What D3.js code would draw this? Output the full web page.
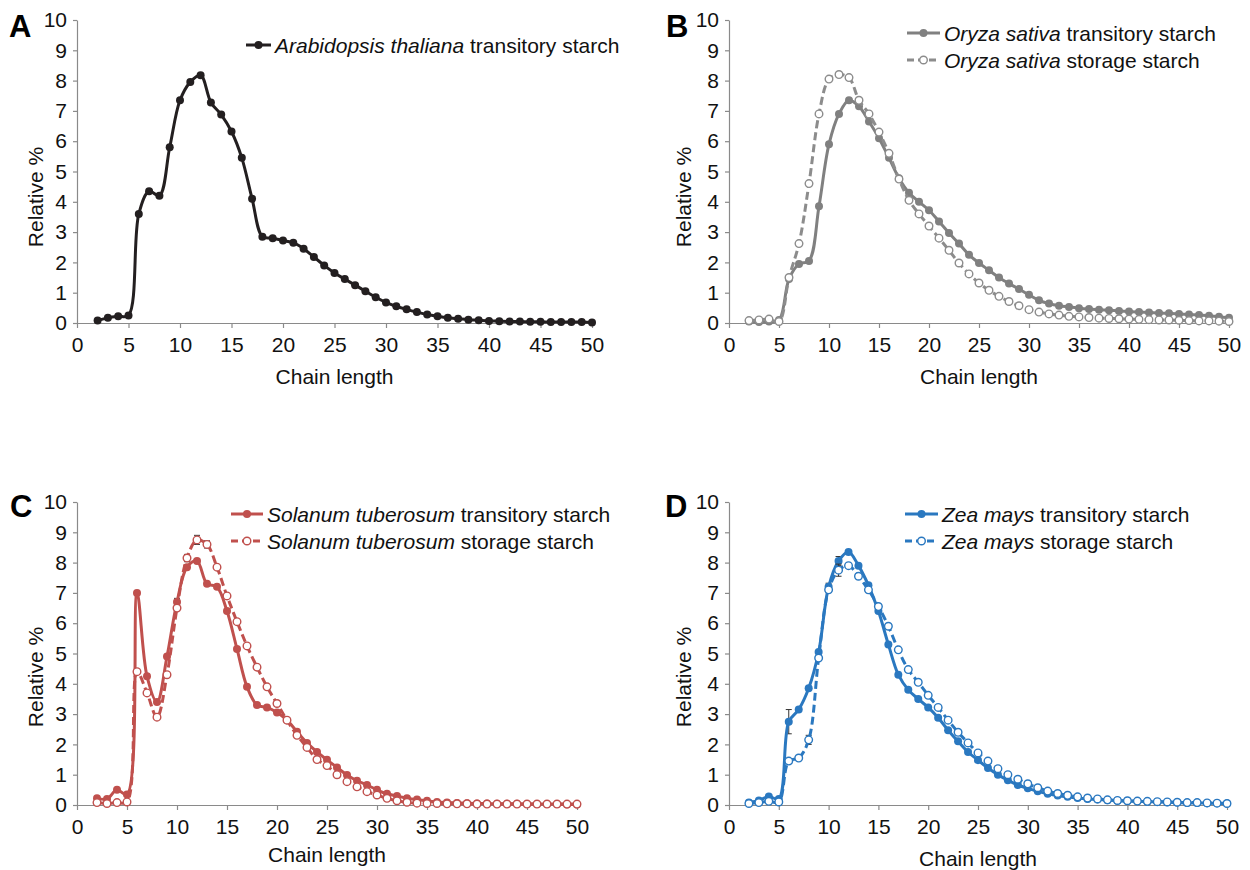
<!DOCTYPE html>
<html>
<head>
<meta charset="utf-8">
<script src="https://cdn.jsdelivr.net/npm/d3@7"></script>
<style>
  body { margin: 0; background: #fff; }
  svg text { font-family: "Liberation Sans", Arial, sans-serif; }
</style>
</head>
<body>
<div id="chart"></div>
<script>
// chain length (degree of polymerisation) on the x axis
var chainLength = [2,3,4,5,6,7,8,9,10,11,12,13,14,15,16,17,18,19,20,21,22,23,24,25,26,
    27,28,29,30,31,32,33,34,35,36,37,38,39,40,41,42,43,44,45,46,47,48,49,50];
var xTicks = [0,5,10,15,20,25,30,35,40,45,50];
var yTicks = [0,1,2,3,4,5,6,7,8,9,10];

var arabidopsisTransitory = [0.08,0.17,0.22,0.25,3.6,4.35,4.2,5.8,7.35,7.95,8.18,7.28,6.88,6.32,5.45,4.1,
    2.85,2.8,2.72,2.65,2.45,2.18,1.9,1.65,1.45,1.25,1.05,0.85,0.68,0.55,0.45,0.36,0.28,0.22,0.17,0.14,
    0.11,0.09,0.07,0.06,0.05,0.05,0.04,0.04,0.03,0.03,0.03,0.03,0.02];

var oryzaTransitory = [0.05,0.03,0.05,0.1,1.45,1.95,2.05,3.85,5.9,6.9,7.35,7.15,6.65,6.1,5.45,4.78,
    4.3,4.0,3.72,3.35,2.97,2.62,2.25,1.98,1.74,1.5,1.3,1.12,0.93,0.75,0.64,0.57,0.53,0.49,0.46,0.44,
    0.42,0.4,0.38,0.36,0.35,0.33,0.32,0.3,0.28,0.26,0.24,0.21,0.17];
var oryzaStorage = [0.08,0.1,0.13,0.05,1.5,2.62,4.6,6.9,8.05,8.2,8.1,7.35,6.9,6.3,5.6,4.75,
    4.05,3.6,3.2,2.8,2.4,1.98,1.62,1.32,1.08,0.88,0.71,0.57,0.44,0.36,0.3,0.26,0.22,0.2,0.18,0.16,
    0.15,0.14,0.13,0.12,0.11,0.1,0.1,0.09,0.08,0.07,0.07,0.06,0.05];

var solanumTransitory = [0.22,0.2,0.5,0.35,7.0,4.25,3.4,4.9,6.7,7.85,8.05,7.3,7.2,6.4,5.15,3.9,
    3.3,3.22,3.05,2.8,2.42,2.05,1.75,1.49,1.24,0.99,0.8,0.66,0.5,0.37,0.3,0.22,0.18,0.14,0.1,0.08,
    0.07,0.06,0.05,0.05,0.04,0.04,0.04,0.03,0.03,0.03,0.03,0.02,0.02];
var solanumStorage = [0.08,0.05,0.08,0.1,4.4,3.7,2.9,4.3,6.5,8.15,8.75,8.6,7.85,6.9,6.05,5.25,
    4.55,3.9,3.35,2.8,2.3,1.9,1.5,1.3,1.0,0.77,0.6,0.44,0.33,0.22,0.14,0.09,0.06,0.05,0.05,0.04,
    0.04,0.04,0.03,0.03,0.03,0.03,0.03,0.03,0.03,0.03,0.03,0.03,0.03];
var solanumTransitoryErr = [[6,0.08],[10,0.12],[12,0.05]];
var solanumStorageErr = [[11,0.12],[12,0.15],[13,0.12]];

var zeaTransitory = [0.08,0.15,0.28,0.2,2.75,3.15,3.85,5.05,7.2,8.05,8.35,7.9,7.25,6.4,5.3,4.3,
    3.8,3.5,3.22,2.88,2.47,2.1,1.75,1.48,1.22,1.0,0.82,0.66,0.55,0.45,0.37,0.31,0.27,0.23,0.2,0.18,
    0.16,0.14,0.13,0.12,0.11,0.1,0.09,0.08,0.07,0.07,0.06,0.06,0.05];
var zeaStorage = [0.05,0.08,0.12,0.1,1.45,1.55,2.15,4.85,7.1,7.75,7.9,7.55,7.1,6.55,5.9,5.12,
    4.47,4.05,3.62,3.22,2.8,2.4,2.05,1.72,1.45,1.2,1.0,0.85,0.7,0.57,0.46,0.38,0.32,0.27,0.23,0.2,
    0.17,0.15,0.14,0.13,0.12,0.11,0.1,0.09,0.08,0.08,0.07,0.06,0.05];
var zeaTransitoryErr = [[6,0.4],[10,0.12],[11,0.15]];
var zeaStorageErr = [[8,0.15],[11,0.2]];

var panels = [
    { letter: "A", lx: 9, ly: 37, x0: 77, x1: 592, top: 20, bottom: 323, titleY: 384, ylabX: 43, ylabY: 197,
      legX: 246, legY: 45, legLen: 25,
      series: [{ species: "Arabidopsis thaliana", kind: "transitory starch", values: arabidopsisTransitory,
                 color: "#231f20", dashed: false, open: false, err: [] }] },
    { letter: "B", lx: 666, ly: 37, x0: 729, x1: 1229, top: 20, bottom: 323, titleY: 384, ylabX: 691, ylabY: 197,
      legX: 907, legY: 33, legLen: 33,
      series: [{ species: "Oryza sativa", kind: "transitory starch", values: oryzaTransitory,
                 color: "#808080", dashed: false, open: false, err: [] },
               { species: "Oryza sativa", kind: "storage starch", values: oryzaStorage,
                 color: "#8c8c8c", dashed: true, open: true, err: [] }] },
    { letter: "C", lx: 10, ly: 517, x0: 77, x1: 577, top: 502, bottom: 805, titleY: 862, ylabX: 43, ylabY: 677,
      legX: 231, legY: 514, legLen: 32,
      series: [{ species: "Solanum tuberosum", kind: "transitory starch", values: solanumTransitory,
                 color: "#c0504d", dashed: false, open: false, err: solanumTransitoryErr },
               { species: "Solanum tuberosum", kind: "storage starch", values: solanumStorage,
                 color: "#c0504d", dashed: true, open: true, err: solanumStorageErr }] },
    { letter: "D", lx: 665, ly: 517, x0: 729, x1: 1227, top: 502, bottom: 805, titleY: 866, ylabX: 691, ylabY: 677,
      legX: 905, legY: 514, legLen: 33,
      series: [{ species: "Zea mays", kind: "transitory starch", values: zeaTransitory,
                 color: "#2a78c0", dashed: false, open: false, err: zeaTransitoryErr },
               { species: "Zea mays", kind: "storage starch", values: zeaStorage,
                 color: "#2a78c0", dashed: true, open: true, err: zeaStorageErr }] }
];

var svg = d3.select("#chart").append("svg")
    .attr("width", 1250)
    .attr("height", 870);

panels.forEach(function(p) {
    var g = svg.append("g");
    var x = d3.scaleLinear().domain([0, 50]).range([p.x0, p.x1]);
    var y = d3.scaleLinear().domain([0, 10]).range([p.bottom, p.top]);

    // axes
    var xAxis = g.append("g")
        .attr("transform", "translate(0," + p.bottom + ")")
        .call(d3.axisBottom(x).tickValues(xTicks).tickSize(5).tickSizeOuter(0).tickPadding(9));
    var yAxis = g.append("g")
        .attr("transform", "translate(" + p.x0 + ",0)")
        .call(d3.axisLeft(y).tickValues(yTicks).tickSize(4).tickSizeOuter(0).tickPadding(6));
    [xAxis, yAxis].forEach(function(a) {
        a.selectAll("path, line").attr("stroke", "#8a8a8a").attr("stroke-width", 1.2);
        a.selectAll("text").attr("font-size", 21).attr("fill", "#111")
            .attr("font-family", "Liberation Sans, Arial, sans-serif");
    });

    g.append("text")
        .attr("x", (p.x0 + p.x1) / 2)
        .attr("y", p.titleY)
        .attr("text-anchor", "middle")
        .attr("font-size", 21)
        .attr("fill", "#111")
        .text("Chain length");

    g.append("text")
        .attr("transform", "translate(" + p.ylabX + "," + p.ylabY + ") rotate(-90)")
        .attr("text-anchor", "middle")
        .attr("font-size", 21)
        .attr("fill", "#111")
        .text("Relative %");

    g.append("text")
        .attr("x", p.lx)
        .attr("y", p.ly)
        .attr("font-size", 31)
        .attr("font-weight", "bold")
        .attr("fill", "#000")
        .text(p.letter);

    var line = d3.line()
        .x(function(d) { return x(d[0]); })
        .y(function(d) { return y(d[1]); })
        .curve(d3.curveCatmullRom.alpha(0.5));

    p.series.forEach(function(s, si) {
        var pts = chainLength.map(function(c, i) { return [c, s.values[i]]; });

        // error bars
        var eb = g.append("g").attr("stroke", "#333").attr("stroke-width", 1);
        s.err.forEach(function(e) {
            var v = s.values[chainLength.indexOf(e[0])];
            var cx = x(e[0]);
            eb.append("line").attr("x1", cx).attr("x2", cx).attr("y1", y(v - e[1])).attr("y2", y(v + e[1]));
            eb.append("line").attr("x1", cx - 3).attr("x2", cx + 3).attr("y1", y(v + e[1])).attr("y2", y(v + e[1]));
            eb.append("line").attr("x1", cx - 3).attr("x2", cx + 3).attr("y1", y(v - e[1])).attr("y2", y(v - e[1]));
        });

        g.append("path")
            .datum(pts)
            .attr("fill", "none")
            .attr("stroke", s.color)
            .attr("stroke-width", 3)
            .attr("stroke-dasharray", s.dashed ? "8,4" : null)
            .attr("d", line);

        g.selectAll(".dot" + si)
            .data(pts).enter()
            .append("circle")
            .attr("class", "dot" + si)
            .attr("cx", function(d) { return x(d[0]); })
            .attr("cy", function(d) { return y(d[1]); })
            .attr("r", s.open ? 3.8 : 4)
            .attr("fill", s.open ? "#fff" : s.color)
            .attr("stroke", s.color)
            .attr("stroke-width", s.open ? 1.4 : 0);

        // legend entry
        var ly = p.legY + si * 27;
        var lg = g.append("g");
        lg.append("line")
            .attr("x1", p.legX).attr("x2", p.legX + p.legLen)
            .attr("y1", ly).attr("y2", ly)
            .attr("stroke", s.color)
            .attr("stroke-width", 3)
            .attr("stroke-dasharray", s.dashed ? "7,4" : null);
        lg.append("circle")
            .attr("cx", p.legX + p.legLen / 2).attr("cy", ly)
            .attr("r", s.open ? 3.8 : 4)
            .attr("fill", s.open ? "#fff" : s.color)
            .attr("stroke", s.color)
            .attr("stroke-width", s.open ? 1.4 : 0);
        var t = lg.append("text")
            .attr("x", p.legX + p.legLen + 4)
            .attr("y", ly + 7.5)
            .attr("font-size", 21)
            .attr("fill", "#111");
        t.append("tspan").attr("font-style", "italic").text(s.species);
        t.append("tspan").text(" " + s.kind);
    });
});
</script>
</body>
</html>
